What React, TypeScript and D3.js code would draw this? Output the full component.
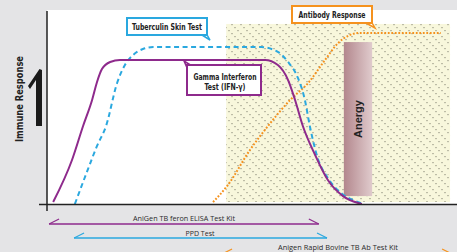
import React from 'react';
import * as d3 from 'd3';

// time (0-100) vs response (0-100)
const gammaT = [1.5, 6.1, 8.8, 11.0, 12.2, 13.4, 15.4, 17.8, 53.2, 56.3, 58.8, 60.5, 62.4, 65.4, 68.5, 72.2, 75.9, 76.8];
const gammaV = [1.0, 22.8, 40.4, 53.9, 63.2, 69.9, 73.6, 74.6, 74.6, 72.0, 64.2, 53.9, 40.4, 25.4, 12.4, 4.1, 0.5, 0];

const skinT = [6.8, 10.0, 12.2, 14.4, 17.1, 19.0, 21.0, 23.4, 25.9, 52.2, 56.3, 58.8, 61.2, 62.9, 64.1, 66.1, 68.5, 71.7, 75.1, 77.1];
const skinV = [0, 18.1, 30.1, 40.4, 62.7, 72.0, 77.2, 80.3, 81.3, 81.3, 78.8, 73.6, 65.3, 53.9, 40.4, 23.3, 13.5, 5.7, 1.6, 0];

const antibodyT = [40.5, 44.1, 49.5, 53.9, 59.3, 63.7, 67.8, 71.0, 73.9, 75.9, 96.1];
const antibodyV = [1.0, 9.8, 28.0, 40.4, 53.9, 62.7, 74.6, 83.4, 87.6, 88.6, 88.6];

// shaded antibody window and anergy period
const antibodyZone = [43.7, 98.3, 1, 93.3];
const anergyZone = [72.4, 79.3, 4.1, 83.9];

// detection windows of the kits
const kitNames = ['AniGen TB feron ELISA Test Kit', 'PPD Test', 'Anigen Rapid Bovine TB Ab Test Kit'];
const kitStart = [0.5, 6.6, 42.7];
const kitEnd = [66.3, 68.3, 98.8];

const W = 457;
const H = 252;

const x = d3.scaleLinear().domain([0, 100]).range([47, 457]);
const y = d3.scaleLinear().domain([0, 100]).range([204, 11]);

const line = d3
  .line<[number, number]>()
  .x((d) => x(d[0]))
  .y((d) => y(d[1]))
  .curve(d3.curveMonotoneX);

const zip = (a: number[], b: number[]) => a.map((v, i) => [v, b[i]] as [number, number]);

const purple = '#8e2a8c';
const blue = '#2aa8df';
const orange = '#f5921e';
const narrow = "'Liberation Sans Narrow', 'DejaVu Sans Condensed', Arial, sans-serif";

const kitColors = [purple, blue, orange];
const kitLineY = [224, 238, 254];
const kitTextY = [220.5, 235.5, 249.5];
const kitTextX = [184, 200, 338];
const kitTextLen = [102, 29, 120];

export default function App() {
  return (
    <svg width={W} height={H} style={{ position: 'absolute', left: 0, top: 0, display: 'block' }}>
      <defs>
        <pattern id="dots" width={9} height={9} patternUnits="userSpaceOnUse">
          <rect x={0} y={0} width={2} height={1.2} fill="#bdbca6" />
          <rect x={3} y={3} width={2} height={1.2} fill="#bdbca6" />
          <rect x={6} y={6} width={2} height={1.2} fill="#bdbca6" />
        </pattern>
        <linearGradient id="anergy" x1="0" x2="1" y1="0" y2="0">
          <stop offset="0" stopColor="#b3878d" />
          <stop offset="1" stopColor="#e0cbcd" />
        </linearGradient>
      </defs>

      <rect width={W} height={H} fill="#e4e4e6" />
      <rect x={47} y={10} width={W - 47} height={194} fill="#ffffff" />

      {/* antibody zone */}
      <rect
        x={x(antibodyZone[0])}
        y={y(antibodyZone[3])}
        width={x(antibodyZone[1]) - x(antibodyZone[0])}
        height={y(antibodyZone[2]) - y(antibodyZone[3])}
        fill="#f8f7dc"
      />
      <rect
        x={x(antibodyZone[0])}
        y={y(antibodyZone[3])}
        width={x(antibodyZone[1]) - x(antibodyZone[0])}
        height={y(antibodyZone[2]) - y(antibodyZone[3])}
        fill="url(#dots)"
      />

      {/* anergy bar */}
      <rect
        x={x(anergyZone[0])}
        y={y(anergyZone[3])}
        width={x(anergyZone[1]) - x(anergyZone[0])}
        height={y(anergyZone[2]) - y(anergyZone[3])}
        fill="url(#anergy)"
      />
      <text
        transform={`translate(${(x(anergyZone[0]) + x(anergyZone[1])) / 2 + 4},119) rotate(-90)`}
        textAnchor="middle"
        fontFamily="'Liberation Sans', Arial, sans-serif"
        fontWeight="bold"
        fontSize={11}
        fill="#222"
      >
        Anergy
      </text>

      {/* curves */}
      <path d={line(zip(antibodyT, antibodyV)) || ''} fill="none" stroke={orange} strokeWidth={2} strokeDasharray="1.8,1.7" />
      <path d={line(zip(skinT, skinV)) || ''} fill="none" stroke={blue} strokeWidth={2} strokeDasharray="5,3.5" />
      <path d={line(zip(gammaT, gammaV)) || ''} fill="none" stroke={purple} strokeWidth={2} />

      {/* axes */}
      <line x1={47} x2={47} y1={11} y2={211} stroke="#222" strokeWidth={1.5} />
      <line x1={39} x2={W} y1={204.5} y2={204.5} stroke="#222" strokeWidth={1.5} />

      {/* y title and arrow */}
      <text
        transform="translate(23,99) rotate(-90)"
        textAnchor="middle"
        fontFamily={narrow}
        fontWeight="bold"
        fontSize={10}
        textLength={86}
        lengthAdjust="spacingAndGlyphs"
        fill="#222"
      >
        Immune Response
      </text>
      <path d="M36,126 L36,80 L30,89 L28,86 L39.5,69 L42,70 L42,126 Z" fill="#1a1a1a" />

      {/* labels */}
      <g fontFamily={narrow} fontWeight="bold" fontSize={8.5} fill="#222" textAnchor="middle">
        <path d="M202,35 L210,40 L206,33" fill="#fff" stroke={blue} strokeWidth={1.5} />
        <rect x={127} y={18} width={80} height={17} fill="#fff" stroke={blue} strokeWidth={2} />
        <text x={167} y={29.5} textLength={70} lengthAdjust="spacingAndGlyphs">Tuberculin Skin Test</text>

        <path d="M192,66 L184,61 L188,70" fill="#fff" stroke={purple} strokeWidth={1.5} />
        <rect x={187} y={65} width={74} height={30} fill="#fff" stroke={purple} strokeWidth={2} />
        <text x={225} y={80} textLength={63} lengthAdjust="spacingAndGlyphs">Gamma Interferon</text>
        <text x={225} y={90} textLength={41} lengthAdjust="spacingAndGlyphs">Test (IFN-γ)</text>

        <path d="M366,23 L375,28 L371,21" fill="#fff" stroke={orange} strokeWidth={1.5} />
        <rect x={292} y={6} width={80} height={17} fill="#fff" stroke={orange} strokeWidth={2} />
        <text x={332} y={17.5} textLength={67} lengthAdjust="spacingAndGlyphs">Antibody Response</text>
      </g>

      {/* kit windows */}
      {kitNames.map((name, i) => {
        const x0 = x(kitStart[i]);
        const x1 = x(kitEnd[i]);
        const ly = kitLineY[i];
        return (
          <g key={name}>
            <line x1={x0} x2={x1} y1={ly} y2={ly} stroke={kitColors[i]} strokeWidth={1.5} />
            <line x1={x0} x2={x0 + 10} y1={ly} y2={ly - 5} stroke={kitColors[i]} strokeWidth={1.2} />
            <line x1={x1} x2={x1 - 10} y1={ly} y2={ly - 5} stroke={kitColors[i]} strokeWidth={1.2} />
            <text
              x={kitTextX[i]}
              y={kitTextY[i]}
              textAnchor="middle"
              fontFamily="'Open Sans', 'DejaVu Sans', sans-serif"
              fontSize={8}
              textLength={kitTextLen[i]}
              lengthAdjust="spacingAndGlyphs"
              fill="#2a2a2a"
            >
              {name}
            </text>
          </g>
        );
      })}
    </svg>
  );
}
